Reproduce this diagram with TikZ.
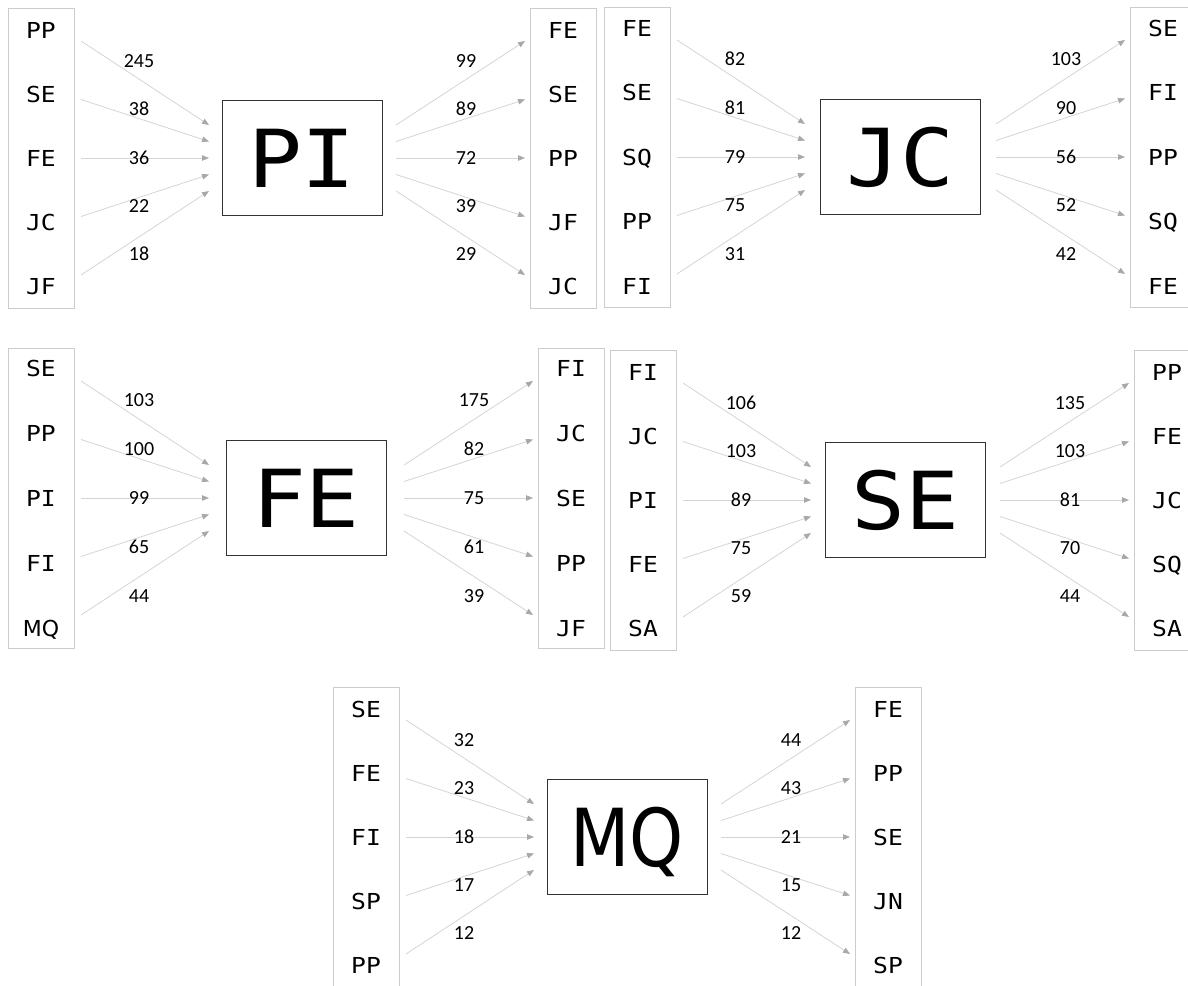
\documentclass[tikz,border=0pt]{standalone}
\usepackage{fontspec}
\setmainfont{Carlito}
\newfontfamily\lblfont[FakeStretch=1.12]{DejaVu Sans Mono}
\newfontfamily\widefont{DejaVu Sans}
\newfontfamily\bigwidefont[FakeStretch=0.86]{DejaVu Sans}
\usetikzlibrary{arrows.meta}
\definecolor{colline}{HTML}{D4D4D4}
\definecolor{tipc}{HTML}{A8A8A8}
\definecolor{colbox}{HTML}{CCCCCC}
\definecolor{cbox}{HTML}{333333}
\tikzset{
  colframe/.style={draw=colbox, line width=1pt, minimum width=66pt, minimum height=300pt, inner sep=0pt},
  itemlbl/.style={font=\lblfont\fontsize{22}{24}\selectfont, inner sep=0pt, text height=16pt, text depth=0pt},
  centerbox/.style={draw=cbox, line width=1pt, minimum width=160pt, minimum height=115pt, inner sep=0pt,
    font=\lblfont\fontsize{80}{80}\selectfont, text height=58pt, text depth=0pt},
  flow/.style={draw=colline, line width=0.8pt, -{Triangle[length=7pt,width=5.5pt,color=tipc]}},
  numlbl/.style={font=\fontsize{20}{21}\selectfont, inner sep=0pt, text height=12.5pt, text depth=0pt},
}
% #1 name, #2 cx, #3 cy, #4 label offset, #5 label spacing, #6 centre text, #7 left list, #8 right list
\newcommand\flowgroup[8]{%
  \begin{scope}[shift={(#2,#3)}]
    \node[centerbox] (#1C) at (0,0) {#6};
    \node[colframe] (#1LB) at (-#4,0) {};
    \node[colframe] (#1RB) at (#4,0) {};
    \foreach \lab/\num [count=\i] in {#7} {
      \node[itemlbl] (#1L\i) at (-#4,{(\i-3)*#5}) {\lab};
      \coordinate (#1Ls\i) at ({-#4+40},{(\i-3)*58.5});
      \coordinate (#1Le\i) at ({-#4+168},{(\i-3)*16.5});
      \draw[flow] (#1Ls\i) -- (#1Le\i);
      \node[numlbl] (#1Ln\i) at ({-#4+98},{(\i-3)*#5*0.755}) {\num};
    }
    \foreach \lab/\num [count=\i] in {#8} {
      \node[itemlbl] (#1R\i) at (#4,{(\i-3)*#5}) {\lab};
      \coordinate (#1Rs\i) at ({#4-167},{(\i-3)*16.5});
      \coordinate (#1Re\i) at ({#4-38},{(\i-3)*58.5});
      \draw[flow] (#1Rs\i) -- (#1Re\i);
      \node[numlbl] (#1Rn\i) at ({#4-97},{(\i-3)*#5*0.755}) {\num};
    }
  \end{scope}%
}
\begin{document}
\begin{tikzpicture}[x=1pt,y=-1pt]
  \clip (0,0) rectangle (1188,985);
  \flowgroup{g1}{302}{158}{261}{64}{PI}
    {PP/245,SE/38,FE/36,JC/22,JF/18}{FE/99,SE/89,PP/72,JF/39,JC/29}
  \flowgroup{g2}{900}{157}{263}{64.5}{JC}
    {FE/82,SE/81,SQ/79,PP/75,FI/31}{SE/103,FI/90,PP/56,SQ/52,FE/42}
  \flowgroup{g3}{306}{498}{265}{65}{FE}
    {SE/103,PP/100,PI/99,FI/65,{\widefont MQ}/44}{FI/175,JC/82,SE/75,PP/61,JF/39}
  \flowgroup{g4}{905}{500}{262}{64}{SE}
    {FI/106,JC/103,PI/89,FE/75,SA/59}{PP/135,FE/103,JC/81,SQ/70,SA/44}
  \flowgroup{g5}{627}{837}{261}{64}{\bigwidefont MQ}
    {SE/32,FE/23,FI/18,SP/17,PP/12}{FE/44,PP/43,SE/21,JN/15,SP/12}
\end{tikzpicture}
\end{document}
